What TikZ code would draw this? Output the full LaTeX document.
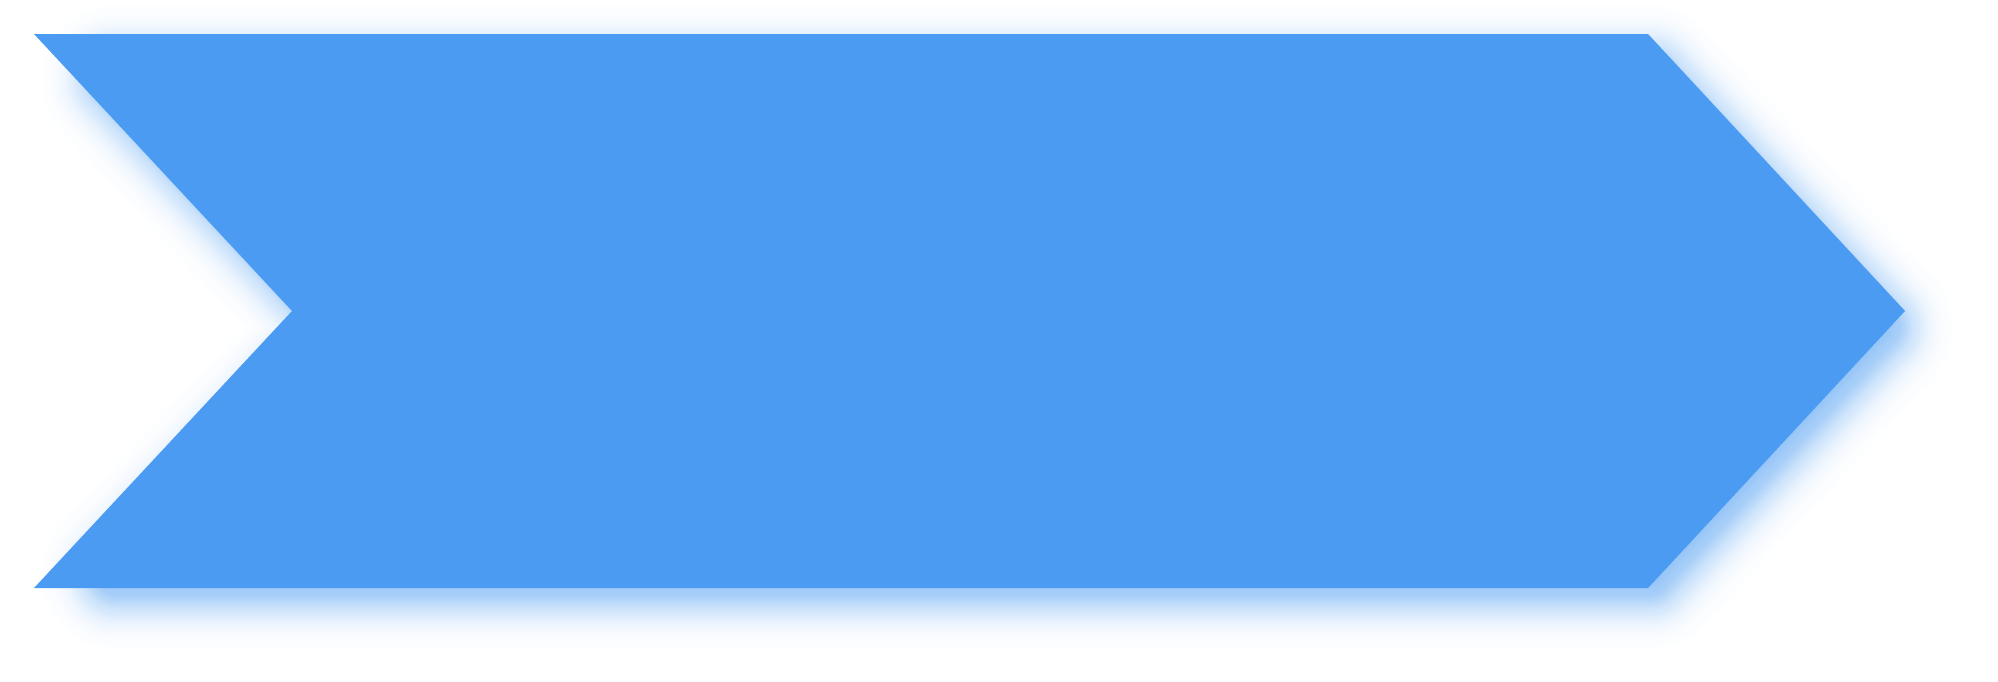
\documentclass[tikz,border=0pt]{standalone}
\definecolor{chevblue}{HTML}{4A9BF1}
\tikzset{
  chevron/.style={fill=chevblue, draw=none},
  shadowlayer/.style={draw=chevblue, fill=none, line join=round}
}
\begin{document}
\begin{tikzpicture}[x=1pt,y=-1pt]
  \useasboundingbox (0,0) rectangle (1998,681);
  % chevron corners
  \coordinate (tl) at (34,34);
  \coordinate (tr) at (1648,34);
  \coordinate (tip) at (1905,311);
  \coordinate (br) at (1648,588);
  \coordinate (bl) at (34,588);
  \coordinate (notch) at (292,311);
  % shadow core: chevron inset by 30 and shifted by (14,16)
  \coordinate (stl) at (116.76,80);
  \coordinate (str) at (1648.92,80);
  \coordinate (stip) at (1878.08,327);
  \coordinate (sbr) at (1648.92,574);
  \coordinate (sbl) at (116.76,574);
  \coordinate (snotch) at (346.92,327);
  % blurred shadow built from stroked layers
  \foreach \k in {1,...,50} {
    \pgfmathsetmacro\D{2*\k-30}
    \pgfmathsetmacro\aIn{0.7/(1+exp(0.0851*(\D-1)))}
    \pgfmathsetmacro\aOut{0.7/(1+exp(0.0851*(\D+1)))}
    \pgfmathsetmacro\op{1-(1-\aIn)/(1-\aOut)}
    \pgfmathsetmacro\lw{4*\k}
    \path[shadowlayer, draw opacity=\op, line width=\lw pt]
      (stl) -- (str) -- (stip) -- (sbr) -- (sbl) -- (snotch) -- cycle;
  }
  % chevron
  \fill[chevron] (tl) -- (tr) -- (tip) -- (br) -- (bl) -- (notch) -- cycle;
\end{tikzpicture}
\end{document}
